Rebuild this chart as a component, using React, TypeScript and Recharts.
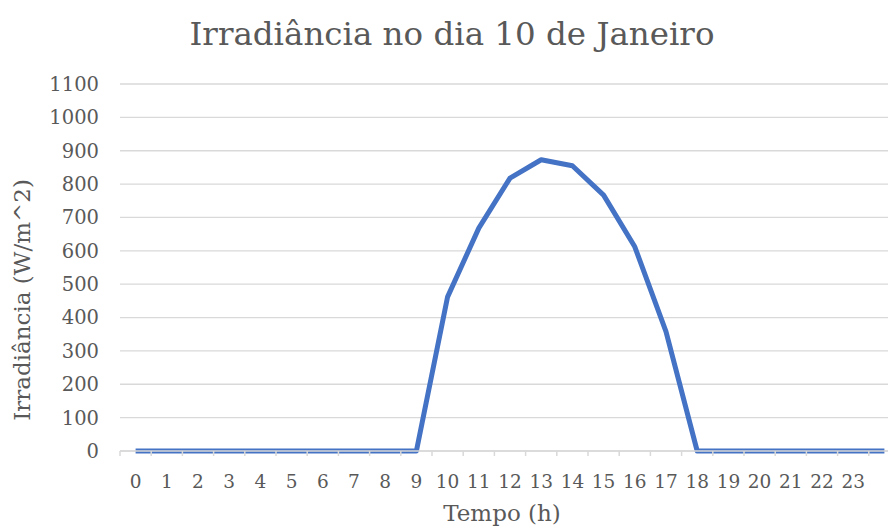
import React from 'react';
import { CartesianGrid, Label, Line, LineChart, XAxis, YAxis } from 'recharts';

// hour categories (the 25th slot has no label)
const hours = [
  '0', '1', '2', '3', '4', '5', '6', '7', '8', '9', '10', '11',
  '12', '13', '14', '15', '16', '17', '18', '19', '20', '21', '22', '23', ''
];

// irradiance in W/m^2 per hour
const irradiance = [
  0, 0, 0, 0, 0, 0, 0, 0, 0, 0, 462, 668,
  818, 873, 855, 767, 612, 358, 0, 0, 0, 0, 0, 0, 0
];

const yTicks = [0, 100, 200, 300, 400, 500, 600, 700, 800, 900, 1000, 1100];

const FONT = '"DejaVu Serif", "Liberation Serif", serif';
const TEXT = '#595959';
const GRID = '#d9d9d9';

const data = hours.map((h, i) => ({ hour: h, value: irradiance[i] }));

function HourTick(props: any) {
  const { x, y, payload } = props;
  const half = 15.6;
  return (
    <g>
      <line x1={x - half} x2={x - half} y1={y} y2={y + 5} stroke={GRID} strokeWidth={1.5} />
      <text x={x} y={y + 37} textAnchor="middle" fill={TEXT} fontFamily={FONT} fontSize={18.5}>
        {payload.value}
      </text>
    </g>
  );
}

export default function App() {
  return (
    <div style={{ position: 'absolute', left: 0, top: 0, width: 888, height: 527, overflow: 'hidden', background: '#fff' }}>
      <div
        style={{
          position: 'absolute',
          left: 0,
          top: 14,
          width: 904,
          textAlign: 'center',
          fontFamily: FONT,
          fontSize: 32.5,
          color: TEXT,
          lineHeight: '40px'
        }}
      >
        Irradiância no dia 10 de Janeiro
      </div>
      <LineChart width={900} height={527} data={data} margin={{ top: 84, right: 0, bottom: 0, left: 20 }}>
        <CartesianGrid vertical={false} stroke={GRID} strokeWidth={1.3} />
        <XAxis
          dataKey="hour"
          scale="band"
          height={76}
          interval={0}
          tickSize={0}
          tickMargin={0}
          axisLine={{ stroke: GRID, strokeWidth: 1.5 }}
          tickLine={false}
          tick={<HourTick />}
        >
          <Label
            content={() => (
              <text x={502} y={521} textAnchor="middle" fill={TEXT} fontFamily={FONT} fontSize={23}>
                Tempo (h)
              </text>
            )}
          />
        </XAxis>
        <YAxis
          domain={[0, 1100]}
          ticks={yTicks}
          width={100}
          axisLine={false}
          tickLine={false}
          tickSize={0}
          tickMargin={21}
          tick={{ fill: TEXT, fontFamily: FONT, fontSize: 19.5 }}
        >
          <Label
            content={() => (
              <text
                x={30}
                y={300}
                transform="rotate(-90 30 300)"
                textAnchor="middle"
                fill={TEXT}
                fontFamily={FONT}
                fontSize={23}
              >
                Irradiância (W/m^2)
              </text>
            )}
          />
        </YAxis>
        <Line
          type="linear"
          dataKey="value"
          stroke="#4472C4"
          strokeWidth={5}
          strokeLinejoin="round"
          dot={false}
          activeDot={false}
          isAnimationActive={false}
        />
      </LineChart>
    </div>
  );
}
